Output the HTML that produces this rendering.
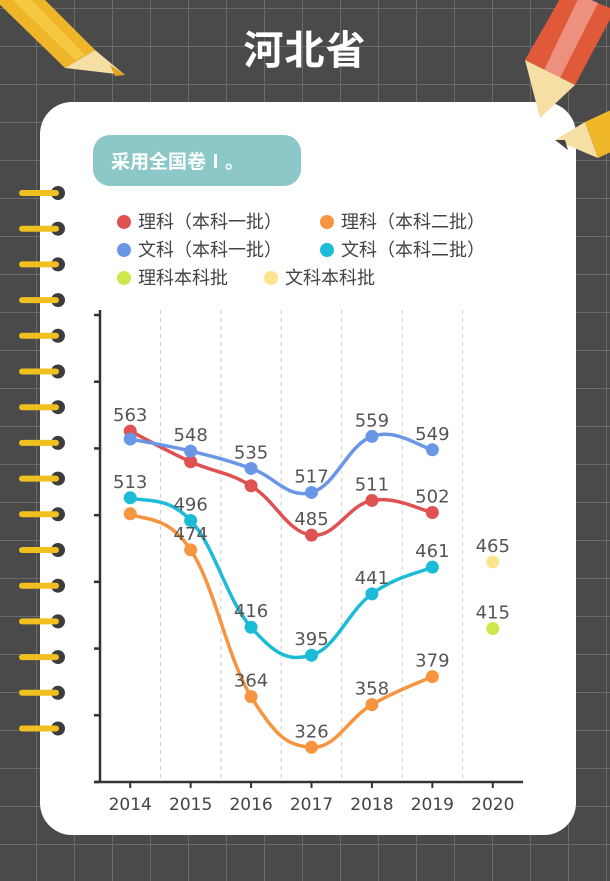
<!DOCTYPE html>
<html><head><meta charset="utf-8">
<style>
body{margin:0;width:610px;height:881px;overflow:hidden;font-family:"Liberation Sans","Noto Sans CJK SC",sans-serif;}
#bg{position:absolute;left:0;top:0;width:610px;height:881px;background-color:#4a4a4a;
background-image:linear-gradient(#6b6b6b 1px,transparent 1px),linear-gradient(90deg,#6b6b6b 1px,transparent 1px);background-size:38px 38px;background-position:-2px 8px;}
#card{position:absolute;left:40px;top:102px;width:536px;height:733px;background:#fff;border-radius:32px;}
#title{position:absolute;left:0;width:610px;top:18px;text-align:center;color:#fff;font-size:40px;font-weight:bold;font-family:"Noto Sans CJK SC",sans-serif;letter-spacing:1px;}
#badge{position:absolute;left:93px;top:135px;width:208px;height:51px;background:#8cc8c8;border-radius:17px;color:#fff;font-weight:bold;font-size:19px;line-height:51px;padding-left:18px;box-sizing:border-box;font-family:"Noto Sans CJK SC",sans-serif;}
.lg{position:absolute;font-size:18px;color:#444;font-family:"Noto Sans CJK SC",sans-serif;line-height:20px;}
.dot{position:absolute;width:14px;height:14px;border-radius:7px;}
svg{position:absolute;left:0;top:0;}
svg text{font-family:"DejaVu Sans","Liberation Sans",sans-serif;}
</style></head><body>
<div id="bg"></div>
<div id="card"></div>
<svg width="610" height="881">
  <g>
    <polygon points="-10,-5 20,-25 95,50 65,68" fill="#f0b62a"/>
    <polygon points="0,-12 12,-20 85,55 75,60" fill="#f5c842"/>
    <polygon points="65,68 95,50 125,75" fill="#f5dfa4"/>
    <polygon points="110,65 125,75 115,76" fill="#e4a21c"/>
  </g>
  <g>
    <polygon points="565,-10 615,10 575,85 525,60" fill="#e05a3a"/>
    <polygon points="580,-5 598,3 560,78 544,70" fill="#ee9080"/>
    <polygon points="525,60 575,85 540,118" fill="#f5dfa4"/>
  </g>
  <g>
    <polygon points="585,122 615,108 615,150 598,158" fill="#f0b62a"/>
    <polygon points="585,122 598,158 555,140" fill="#f5dfa4"/>
    <polygon points="565,140 555,140 568,150" fill="#444"/>
  </g>
  <g id="rings"></g>
</svg>
<div id="title">河北省</div>
<div id="badge">采用全国卷Ⅰ。</div>
<div>
  <div class="dot" style="left:117px;top:215px;background:#e05252"></div>
  <div class="lg" style="left:138px;top:211px">理科（本科一批）</div>
  <div class="dot" style="left:320px;top:215px;background:#f79440"></div>
  <div class="lg" style="left:341px;top:211px">理科（本科二批）</div>
  <div class="dot" style="left:117px;top:243px;background:#6a96e6"></div>
  <div class="lg" style="left:138px;top:239px">文科（本科一批）</div>
  <div class="dot" style="left:320px;top:243px;background:#1cbcd8"></div>
  <div class="lg" style="left:341px;top:239px">文科（本科二批）</div>
  <div class="dot" style="left:117px;top:271px;background:#cde84c"></div>
  <div class="lg" style="left:138px;top:267px">理科本科批</div>
  <div class="dot" style="left:264px;top:271px;background:#fde58e"></div>
  <div class="lg" style="left:285px;top:267px">文科本科批</div>
</div>
<svg id="chart" width="610" height="881"></svg>
<script>
const years=["2014","2015","2016","2017","2018","2019","2020"];
const li1=[563,540,522,485,511,502,null];
const li2=[501,474,364,326,358,379,null];
const wen1=[557,548,535,517,559,549,null];
const wen2=[513,496,416,395,441,461,null];
const liBen=[null,null,null,null,null,null,415];
const wenBen=[null,null,null,null,null,null,465];
const li1Labels=[1,0,0,1,1,1,0];
const li2Labels=[0,1,1,1,1,1,0];
const wen1Labels=[0,1,1,1,1,1,0];
const wen2Labels=[1,1,1,1,1,1,0];
const yMin=300,yMax=650,yStep=50;

const NS="http://www.w3.org/2000/svg";
const svg=document.getElementById('chart');
const X0=100,X1=523,Y0=782,Y1=315;
const band=(X1-X0)/years.length;
const xs=i=>X0+band*(i+0.5);
const ys=v=>Y0-(v-yMin)/(yMax-yMin)*(Y0-Y1);
function mk(t,a){const e=document.createElementNS(NS,t);for(const k in a)e.setAttribute(k,a[k]);svg.appendChild(e);return e;}

const rg=document.getElementById('rings');
for(let i=0;i<16;i++){const y=193+i*35.7;
 const c=document.createElementNS(NS,'circle');c.setAttribute('cx',58);c.setAttribute('cy',y);c.setAttribute('r',7);c.setAttribute('fill','#3d3d3d');
 rg.appendChild(c);
 const l=document.createElementNS(NS,'line');l.setAttribute('x1',22);l.setAttribute('x2',56);l.setAttribute('y1',y);l.setAttribute('y2',y);l.setAttribute('stroke','#f0c020');l.setAttribute('stroke-width',6);l.setAttribute('stroke-linecap','round');
 rg.appendChild(l);}

for(let i=1;i<years.length;i++){const x=X0+band*i;
 const g=mk('line',{x1:x,x2:x,y1:Y1-5,y2:Y0,stroke:'#ccc','stroke-dasharray':'4,4','stroke-width':1});
 }
let a=mk('line',{x1:X0,x2:X0,y1:Y1-5,y2:Y0,stroke:'#333','stroke-width':2.5});

a=mk('line',{x1:X0-6,x2:X1,y1:Y0,y2:Y0,stroke:'#333','stroke-width':2.5});

for(let v=yMin;v<=yMax;v+=yStep){const t=mk('line',{x1:X0-6,x2:X0,y1:ys(v),y2:ys(v),stroke:'#333','stroke-width':2.5});
 }
years.forEach((y,i)=>{const t=mk('line',{x1:xs(i),x2:xs(i),y1:Y0,y2:Y0+6,stroke:'#333','stroke-width':2});
 
 const l=mk('text',{x:xs(i),y:Y0+28,'text-anchor':'middle','font-size':17,fill:'#444'});l.textContent=y;
 });

function series(vals,labels,color,name){
 const pts=[];vals.forEach((v,i)=>{if(v!=null)pts.push([xs(i),ys(v),v,i]);});
 if(pts.length>1){let d='M'+pts[0][0]+','+pts[0][1];
  for(let i=0;i<pts.length-1;i++){const p0=pts[Math.max(0,i-1)],p1=pts[i],p2=pts[i+1],p3=pts[Math.min(pts.length-1,i+2)];const k=0.2;
   d+=' C'+(p1[0]+(p2[0]-p0[0])*k)+','+(p1[1]+(p2[1]-p0[1])*k)+' '+(p2[0]-(p3[0]-p1[0])*k)+','+(p2[1]-(p3[1]-p1[1])*k)+' '+p2[0]+','+p2[1];}
  const p=mk('path',{d:d,fill:'none',stroke:color,'stroke-width':3.5});
  }
 pts.forEach(q=>{const c=mk('circle',{cx:q[0],cy:q[1],r:6.5,fill:color});
  });
 return pts;
}
const groups=[[li1,li1Labels,'#e05252','li-1'],[wen1,wen1Labels,'#6a96e6','wen-1'],[li2,li2Labels,'#f79440','li-2'],[wen2,wen2Labels,'#1cbcd8','wen-2'],[liBen,null,'#cde84c','li-ben'],[wenBen,null,'#fde58e','wen-ben']];
const all=groups.map(g=>[series(g[0],g[1],g[2],g[3]),g[1]]);
all.forEach(([pts,lab])=>pts.forEach(q=>{if(lab&&!lab[q[3]])return;
 const t=mk('text',{x:q[0],y:q[1]-10,'text-anchor':'middle','font-size':18,fill:'#555'});t.textContent=q[2];
 }));
</script>
</body></html>
